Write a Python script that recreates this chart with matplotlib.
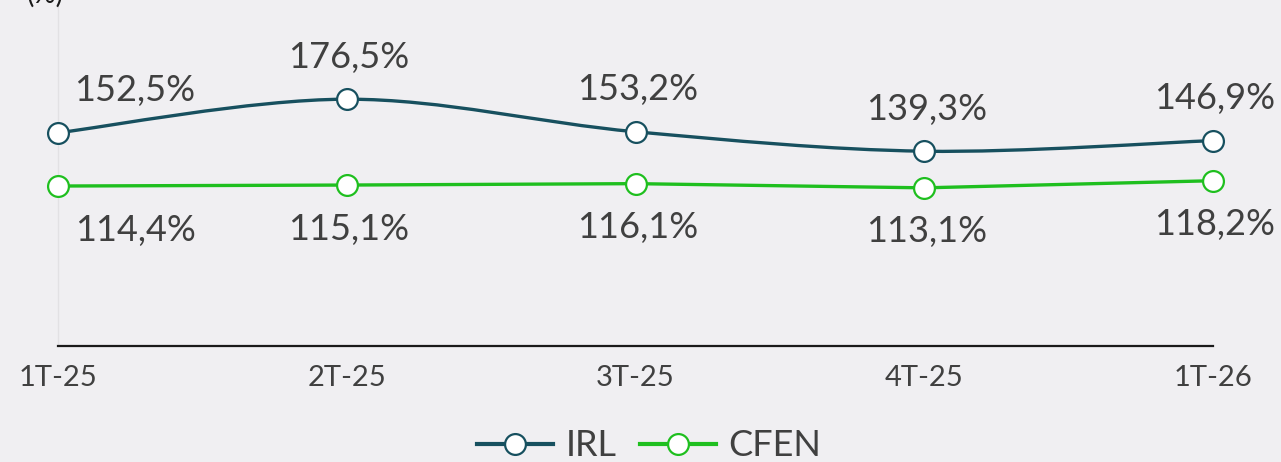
import matplotlib
matplotlib.use("Agg")
import matplotlib.pyplot as plt
import numpy as np
from matplotlib.path import Path
from matplotlib.patches import PathPatch

categories = ["1T-25", "2T-25", "3T-25", "4T-25", "1T-26"]
irl = [152.5, 176.5, 153.2, 139.3, 146.9]
cfen = [114.4, 115.1, 116.1, 113.1, 118.2]
irl_labels = ["152,5%", "176,5%", "153,2%", "139,3%", "146,9%"]
cfen_labels = ["114,4%", "115,1%", "116,1%", "113,1%", "118,2%"]

BG = "#f0eff2"
C_IRL = "#17505f"
C_CFEN = "#1fbf1f"
TXT = "#404040"
FONT = ["Lato", "DejaVu Sans"]

plt.rcParams["font.family"] = FONT

W, H = 1281, 462
fig = plt.figure(figsize=(W / 100, H / 100), dpi=100, facecolor=BG)
x0, x1 = 58, 1213
yb, yt = 346, 2
ax = fig.add_axes([x0 / W, (H - yb) / H, (x1 - x0) / W, (yb - yt) / H])
ax.set_facecolor(BG)
ax.set_xlim(0, 4)
ax.set_ylim(0, 246)

xs = np.arange(len(categories))


def smooth_path(x, y, t=0.5):
    x = np.asarray(x, float)
    y = np.asarray(y, float)
    verts = [(x[0], y[0])]
    codes = [Path.MOVETO]
    n = len(x)
    for i in range(n - 1):
        p0 = np.array([x[max(i - 1, 0)], y[max(i - 1, 0)]])
        p1 = np.array([x[i], y[i]])
        p2 = np.array([x[i + 1], y[i + 1]])
        p3 = np.array([x[min(i + 2, n - 1)], y[min(i + 2, n - 1)]])
        c1 = p1 + (p2 - p0) * t / 3
        c2 = p2 - (p3 - p1) * t / 3
        verts += [tuple(c1), tuple(c2), tuple(p2)]
        codes += [Path.CURVE4] * 3
    return Path(verts, codes)


ax.add_patch(PathPatch(smooth_path(xs, irl, 0.5), facecolor="none",
                       edgecolor=C_IRL, lw=2.4, zorder=2))
ax.plot(xs, irl, ls="none", marker="o", ms=15, mfc="white", mec=C_IRL,
        mew=1.6, zorder=3, clip_on=False)
ax.plot(xs, cfen, color=C_CFEN, lw=2.4, marker="o", ms=15, mfc="white",
        mec=C_CFEN, mew=1.6, zorder=3, clip_on=False)

# legend proxies
ax.plot([], [], color=C_IRL, lw=3, marker="o", ms=15, mfc="white", mec=C_IRL,
        mew=1.6, label="IRL")
ax.plot([], [], color=C_CFEN, lw=3, marker="o", ms=15, mfc="white", mec=C_CFEN,
        mew=1.6, label="CFEN")

for i, (v, lab) in enumerate(zip(irl, irl_labels)):
    dx = 77 if i == 0 else 2
    ax.annotate(lab, (xs[i], v), xytext=(dx, 42), textcoords="offset pixels",
                ha="center", va="center", fontsize=26, color=TXT)
for i, (v, lab) in enumerate(zip(cfen, cfen_labels)):
    dx = 77 if i == 0 else 2
    ax.annotate(lab, (xs[i], v), xytext=(dx, -44), textcoords="offset pixels",
                ha="center", va="center", fontsize=26, color=TXT)

for s in ["top", "right"]:
    ax.spines[s].set_visible(False)
ax.spines["left"].set_color("#e2e1e4")
ax.spines["left"].set_linewidth(1.0)
ax.spines["bottom"].set_color("#1a1a1a")
ax.spines["bottom"].set_linewidth(1.6)
ax.set_yticks([])
ax.set_xticks(xs)
ax.set_xticklabels(categories, fontsize=21, color=TXT)
ax.tick_params(axis="x", length=0, pad=14)

fig.text(45 / W, 1.0 + 6 / H, "(%)", ha="center", va="center", fontsize=20,
         color="#1a1a1a")

leg = fig.legend(loc="center", bbox_to_anchor=(0.507, 1 - 446 / H), ncol=2,
                 frameon=False, fontsize=26, handlelength=2.1,
                 columnspacing=0.65, handletextpad=0.35, labelcolor=TXT)

fig.savefig("out.png", dpi=100, facecolor=BG)
